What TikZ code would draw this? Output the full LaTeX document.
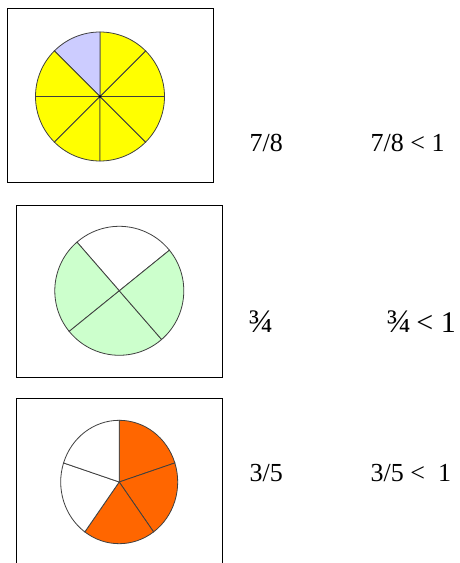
\documentclass[tikz,border=0pt]{standalone}
\usepackage{fontspec}
\setmainfont{Liberation Serif}
\usetikzlibrary{calc}
\definecolor{pieyellow}{HTML}{FFFF00}
\definecolor{pieblue}{HTML}{CCCCFF}
\definecolor{piegreen}{HTML}{CCFFCC}
\definecolor{pieorange}{HTML}{FF6600}
\begin{document}
\begin{tikzpicture}[x=1pt,y=1pt,
  framebox/.style={draw=black,line width=1pt},
  sector/.style={draw=black!75,line width=0.8pt},
  lbl/.style={anchor=base west,inner sep=0pt,font=\fontsize{26}{30}\selectfont},
  lblbig/.style={anchor=base west,inner sep=0pt,font=\fontsize{30}{34}\selectfont}]
\useasboundingbox (0,0) rectangle (459,563);
\fill[white] (0,0) rectangle (459,563);
% ---- frames
\draw[framebox] (7,554) rectangle (213,380);
\draw[framebox] (16.7,357.3) rectangle (222,185.3);
\draw[framebox] (16.7,-5) -- (16.7,164.7) -- (222.3,164.7) -- (222.3,-5);
% ---- pie 1 : 7/8
\coordinate (c1) at (100,466.5);
\foreach \a in {0,45,...,315}{
  \pgfmathsetmacro{\b}{\a+45}
  \ifnum\a=90
    \filldraw[sector,fill=pieblue] (c1) -- ++(\a:64.5) arc[start angle=\a,end angle=\b,radius=64.5] -- cycle;
  \else
    \filldraw[sector,fill=pieyellow] (c1) -- ++(\a:64.5) arc[start angle=\a,end angle=\b,radius=64.5] -- cycle;
  \fi
}
\fill (c1) circle (1.3);
% ---- pie 2 : 3/4
\coordinate (c2) at (119.3,272.2);
\filldraw[sector,fill=white] (c2) -- ++(39:64.5) arc[start angle=39,end angle=131,radius=64.5] -- cycle;
\filldraw[sector,fill=piegreen] (c2) -- ++(131:64.5) arc[start angle=131,end angle=219,radius=64.5] -- cycle;
\filldraw[sector,fill=piegreen] (c2) -- ++(219:64.5) arc[start angle=219,end angle=311,radius=64.5] -- cycle;
\filldraw[sector,fill=piegreen] (c2) -- ++(311:64.5) arc[start angle=311,end angle=399,radius=64.5] -- cycle;
% ---- pie 3 : 3/5
\coordinate (c3) at (119.2,81);
\foreach \a/\col in {18/pieorange,-54/pieorange,-126/pieorange,162/white,90/white}{
  \pgfmathsetmacro{\b}{\a+72}
  \filldraw[sector,fill=\col] (c3) -- ($(c3)+({58.5*cos(\a)},{61.7*sin(\a)})$) arc[start angle=\a,end angle=\b,x radius=58.5,y radius=61.7] -- cycle;
}
% ---- labels
\node[lbl] (f1) at (249.5,411.3) {7/8};
\node[lbl] (r1) at (370.5,411.3) {7/8 < 1};
\node[lblbig] (f2) at (248.5,230.5) {{\fontsize{33}{36}\selectfont ¾}};
\node[lblbig] (r2) at (386.5,230.5) {{\fontsize{33}{36}\selectfont ¾}\,< 1};
\node[lbl] (f3) at (249.5,81) {3/5};
\node[lbl] (r3) at (370.5,81) {3/5 <\ \ 1};
\end{tikzpicture}
\end{document}
